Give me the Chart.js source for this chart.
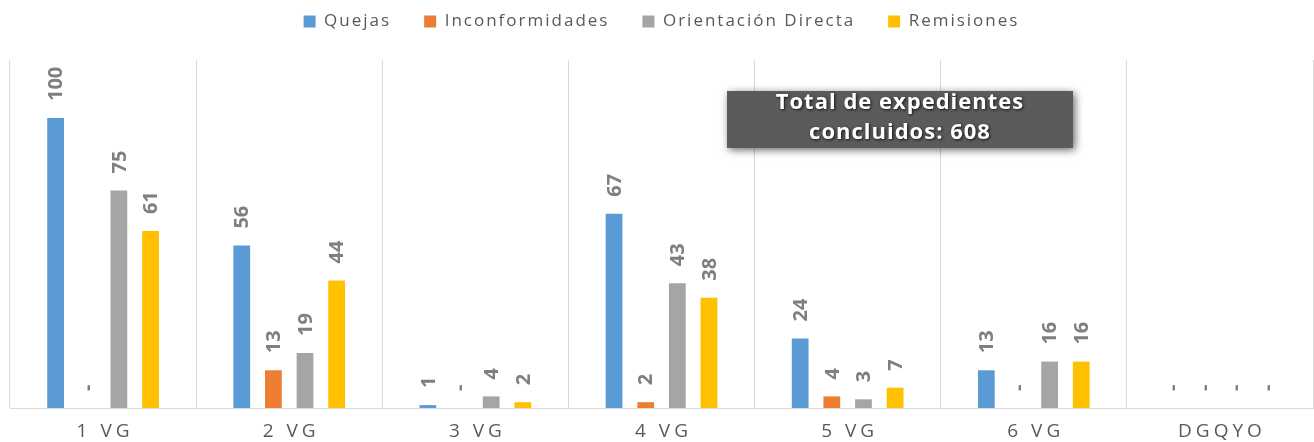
<!DOCTYPE html>
<html>
<head>
<meta charset="utf-8">
<script src="https://cdn.jsdelivr.net/npm/chart.js@4"></script>
<style>
  html, body { margin: 0; padding: 0; background: #fff; }
  #wrap { width: 1314px; height: 442px; }
</style>
</head>
<body>
<div id="wrap"><canvas id="chart"></canvas></div>
<script>
// ── Data ───────────────────────────────────────────────────────
const categories = ['1 VG', '2 VG', '3 VG', '4 VG', '5 VG', '6 VG', 'DGQYO'];
const quejas = [100, 56, 1, 67, 24, 13, 0];
const inconformidades = [0, 13, 0, 2, 4, 0, 0];
const orientacion = [75, 19, 4, 43, 3, 16, 0];
const remisiones = [61, 44, 2, 38, 7, 16, 0];
const seriesNames = ['Quejas', 'Inconformidades', 'Orientación Directa', 'Remisiones'];
const totalLines = ['Total de expedientes', 'concluidos: 608'];

const colors = ['#5b9bd5', '#ed7d31', '#a5a5a5', '#ffc000'];
const FONT = "'Open Sans', sans-serif";

// ── Plugins ────────────────────────────────────────────────────
// wide letter spacing like the original (legend 2px, axis labels 4px)
const spacing = {
  id: 'spacing',
  beforeLayout(chart) {
    chart.ctx.letterSpacing = '2px';
    const lg = chart.legend;
    if (lg && !lg._tall) {
      const fit = lg.fit;
      lg.fit = function () { fit.call(this); if (this.height) this.height = 80; };
      lg._tall = true;
    }
  },
  beforeDraw(chart) {
    chart.ctx.letterSpacing = '2px';
    const x = chart.scales.x;
    if (x && !x._spaced) {
      const draw = x.drawLabels;
      x.drawLabels = function (area) {
        const c = this.ctx, old = c.letterSpacing;
        c.letterSpacing = '4px';
        c.save(); c.translate(2, 0);
        draw.call(this, area);
        c.restore();
        c.letterSpacing = old;
      };
      x._spaced = true;
    }
  }
};

const valueLabels = {
  id: 'valueLabels',
  afterDatasetsDraw(chart) {
    const ctx = chart.ctx;
    ctx.save();
    ctx.letterSpacing = '0px';
    ctx.font = 'bold 20px ' + FONT;
    ctx.fillStyle = '#7f7f7f';
    ctx.textAlign = 'left';
    ctx.textBaseline = 'middle';
    chart.data.datasets.forEach((ds, i) => {
      chart.getDatasetMeta(i).data.forEach((bar, j) => {
        const v = ds.data[j];
        const txt = v === 0 ? '-' : String(v);
        ctx.save();
        ctx.translate(bar.x + 1, bar.y - 17);
        ctx.rotate(-Math.PI / 2);
        ctx.fillText(txt, 0, 0);
        ctx.restore();
      });
    });
    ctx.restore();
  }
};

const totalBox = {
  id: 'totalBox',
  afterDraw(chart) {
    const ctx = chart.ctx;
    ctx.save();
    ctx.letterSpacing = '1px';
    ctx.shadowColor = 'rgba(0,0,0,0.6)';
    ctx.shadowBlur = 8;
    ctx.shadowOffsetX = 2;
    ctx.shadowOffsetY = 2;
    ctx.fillStyle = '#5b5b5b';
    ctx.fillRect(727, 91, 346, 57);
    ctx.shadowColor = 'rgba(0,0,0,0.8)';
    ctx.shadowBlur = 3;
    ctx.shadowOffsetX = 1;
    ctx.shadowOffsetY = 1;
    ctx.fillStyle = '#ffffff';
    ctx.font = 'bold 22px ' + FONT;
    ctx.textAlign = 'center';
    ctx.textBaseline = 'middle';
    ctx.fillText(totalLines[0], 900, 103);
    ctx.fillText(totalLines[1], 900, 133);
    ctx.restore();
  }
};

// ── Chart ──────────────────────────────────────────────────────
new Chart(document.getElementById('chart'), {
  type: 'bar',
  data: {
    labels: categories,
    datasets: [quejas, inconformidades, orientacion, remisiones].map((d, i) => ({
      label: seriesNames[i],
      data: d,
      backgroundColor: colors[i],
      borderWidth: 0,
      barPercentage: 0.53,
      categoryPercentage: 0.68
    }))
  },
  options: {
    responsive: true, maintainAspectRatio: false, animation: false,
    layout: { padding: { left: 10, right: 1, top: -20, bottom: -13 } },
    plugins: {
      legend: {
        display: true, position: 'top',
        labels: { boxWidth: 12, boxHeight: 12, padding: 33, color: '#595959', font: { family: FONT, size: 17 } }
      },
      tooltip: { enabled: false }
    },
    scales: {
      x: {
        grid: { color: '#d9d9d9', lineWidth: 1, offset: true, drawTicks: false },
        border: { color: '#d9d9d9' },
        ticks: { color: '#595959', padding: 14, font: { family: FONT, size: 19, lineHeight: 1 } }
      },
      y: { display: false, min: 0, max: 120 }
    }
  },
  plugins: [spacing, valueLabels, totalBox]
});
</script>
</body>
</html>
